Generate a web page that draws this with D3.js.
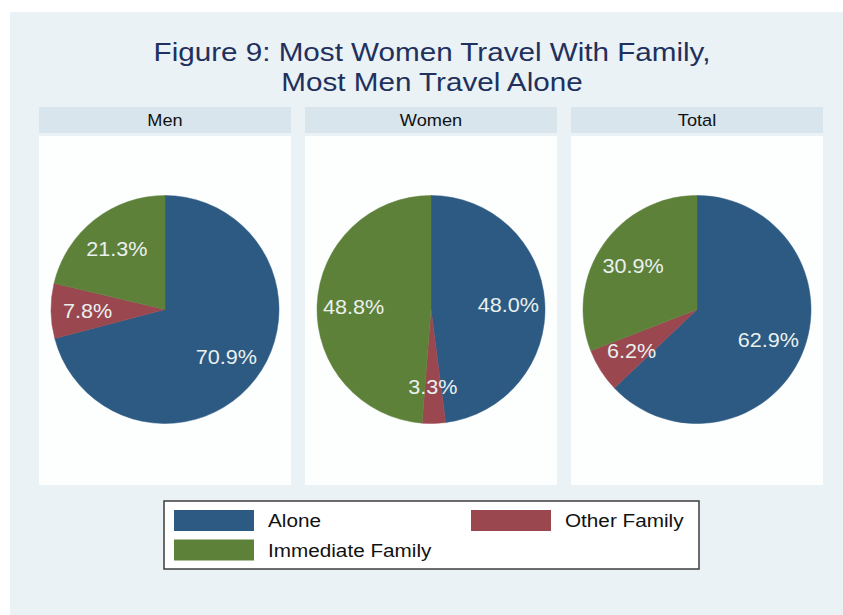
<!DOCTYPE html>
<html>
<head>
<meta charset="utf-8">
<script src="https://cdn.jsdelivr.net/npm/d3@7"></script>
<style>
  body { margin: 0; background: #ffffff; }
  text { font-family: "Liberation Sans", Arial, sans-serif; }
</style>
</head>
<body>
<div id="chart"></div>
<script>
// data
const groups = ["Men", "Women", "Total"];
const categories = ["Alone", "Other Family", "Immediate Family"];
const menValues = [70.9, 7.8, 21.3];
const womenValues = [48.0, 3.3, 48.8];
const totalValues = [62.9, 6.2, 30.9];
const titleLines = ["Figure 9: Most Women Travel With Family,", "Most Men Travel Alone"];

const seriesByGroup = { Men: menValues, Women: womenValues, Total: totalValues };

const width = 843, height = 615;

const svg = d3.select("#chart")
    .append("svg")
    .attr("width", width)
    .attr("height", height);

// graph region background
svg.append("rect")
    .attr("x", 10).attr("y", 12)
    .attr("width", width - 10).attr("height", height - 12)
    .attr("fill", "#eaf2f5");

// text is a bit wide in the original, stretch horizontally
function wideText(sel, x, y, sx) {
    return sel.attr("transform", `translate(${x},${y}) scale(${sx},1)`);
}

// title
titleLines.forEach((t, i) => {
    wideText(svg.append("text"), 432, 61 + i * 30, 1.14)
        .attr("text-anchor", "middle")
        .attr("font-size", 26)
        .attr("fill", "#21305c")
        .text(t);
});

const color = d3.scaleOrdinal()
    .domain(categories)
    .range(["#2c5a83", "#9a4750", "#5e813a"]);

const x = d3.scaleBand()
    .domain(groups)
    .range([39, 823])
    .paddingInner(14 / 266);

const headerTop = 107, headerH = 26;
const plotTop = 136, plotBottom = 485;
const radius = 114;
const cy = 309.5;

const pie = d3.pie().sort(null).value(d => d.value);
const arc = d3.arc().innerRadius(0).outerRadius(radius);
const labelArc = d3.arc().innerRadius(radius * 0.68).outerRadius(radius * 0.68);

groups.forEach(g => {
    const x0 = x(g);
    const bw = x.bandwidth();

    // header strip
    svg.append("rect")
        .attr("x", x0).attr("y", headerTop)
        .attr("width", bw).attr("height", headerH)
        .attr("fill", "#d8e5ed");

    wideText(svg.append("text"), x0 + bw / 2, headerTop + 18.5, 1.07)
        .attr("text-anchor", "middle")
        .attr("font-size", 17)
        .attr("fill", "#111")
        .text(g);

    // plot area
    svg.append("rect")
        .attr("x", x0).attr("y", plotTop)
        .attr("width", bw).attr("height", plotBottom - plotTop)
        .attr("fill", "#fdfefe");

    const data = seriesByGroup[g].map((v, i) => ({ key: categories[i], value: v }));
    const arcs = pie(data);

    const pieG = svg.append("g")
        .attr("transform", `translate(${x0 + bw / 2}, ${cy})`);

    pieG.selectAll("path")
        .data(arcs)
        .enter().append("path")
        .attr("d", arc)
        .attr("fill", d => color(d.data.key))
        .attr("stroke", d => color(d.data.key))
        .attr("stroke-width", 0.5);

    pieG.selectAll("text")
        .data(arcs)
        .enter().append("text")
        .each(function(d) {
            const c = labelArc.centroid(d);
            wideText(d3.select(this), c[0], c[1], 1.08);
        })
        .attr("text-anchor", "middle")
        .attr("dominant-baseline", "central")
        .attr("font-size", 20)
        .attr("fill", "#eaf0ee")
        .text(d => d3.format(".1f")(d.data.value) + "%");
});

// legend
const legend = svg.append("g").attr("class", "legend");

legend.append("rect")
    .attr("x", 164).attr("y", 501)
    .attr("width", 535).attr("height", 68)
    .attr("fill", "#ffffff")
    .attr("stroke", "#3c3c3c")
    .attr("stroke-width", 1.5);

const items = legend.selectAll("g.item")
    .data(categories)
    .enter().append("g")
    .attr("class", "item")
    .attr("transform", (d, i) => `translate(${174 + (i % 2) * 297}, ${510 + Math.floor(i / 2) * 29.5})`);

items.append("rect")
    .attr("width", 80).attr("height", 21)
    .attr("fill", d => color(d));

items.append("text")
    .each(function() { wideText(d3.select(this), 94, 17.3, 1.12); })
    .attr("font-size", 18.5)
    .attr("fill", "#111")
    .text(d => d);
</script>
</body>
</html>
